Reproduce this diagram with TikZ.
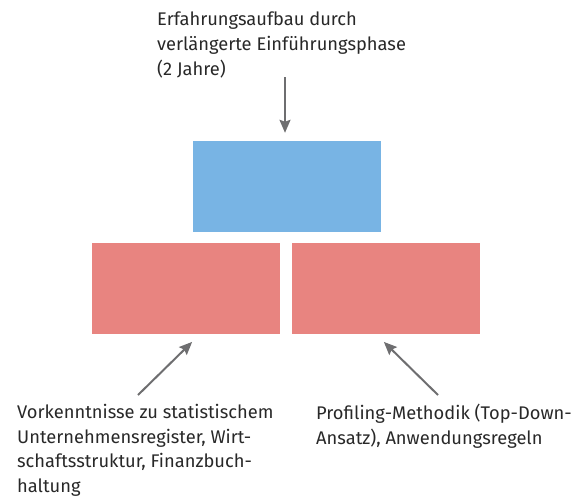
\documentclass[tikz,border=0pt]{standalone}
\usepackage{fontspec}
\setmainfont{Fira Sans}
\usepackage{tikz}
\usetikzlibrary{arrows.meta, positioning, calc}
\definecolor{boxblue}{RGB}{120, 180, 228}
\definecolor{boxred}{RGB}{232, 132, 128}
\definecolor{arrgray}{RGB}{110, 110, 112}
\definecolor{txtgray}{RGB}{40, 40, 40}

\begin{document}
\begin{tikzpicture}[x=1pt, y=-1pt,
  block/.style={fill=#1, minimum width=188pt, minimum height=91pt, inner sep=0pt},
  label/.style={anchor=north west, align=left, inner sep=0pt, text=txtgray, font=\fontsize{18.3}{24.6}\selectfont},
  arr/.style={-{Stealth[length=13pt, width=11pt, inset=2pt]}, line width=2pt, draw=arrgray}]
  \useasboundingbox (0,0) rectangle (575,498);

  % Boxes
  \node[block=boxblue] (erf) at (287, 186.5) {};
  \node[block=boxred] (vork) at (186, 288.5) {};
  \node[block=boxred] (prof) at (386, 288.5) {};

  % Texts
  \node[label] (erftxt) at (157, 12) {Erfahrungsaufbau durch\\verlängerte Einführungsphase\\(2 Jahre)};
  \node[label] (vorktxt) at (17, 404) {Vorkenntnisse zu statistischem\\Unternehmensregister, Wirt-\\schaftsstruktur, Finanzbuch-\\haltung};
  \node[label] (proftxt) at (316, 404) {Profiling-Methodik (Top-Down-\\Ansatz), Anwendungsregeln};

  % Arrows
  \coordinate (erfin) at (285, 77);
  \coordinate (vorkin) at (138, 395);
  \coordinate (profin) at (438, 395);
  \draw[arr, shorten >=8pt] (erfin) -- (erf.north -| erfin);
  \draw[arr, shorten >=11pt] (vorkin) -- ([xshift=14pt]vork.south);
  \draw[arr, shorten >=11pt] (profin) -- ([xshift=-10pt]prof.south);
\end{tikzpicture}
\end{document}
